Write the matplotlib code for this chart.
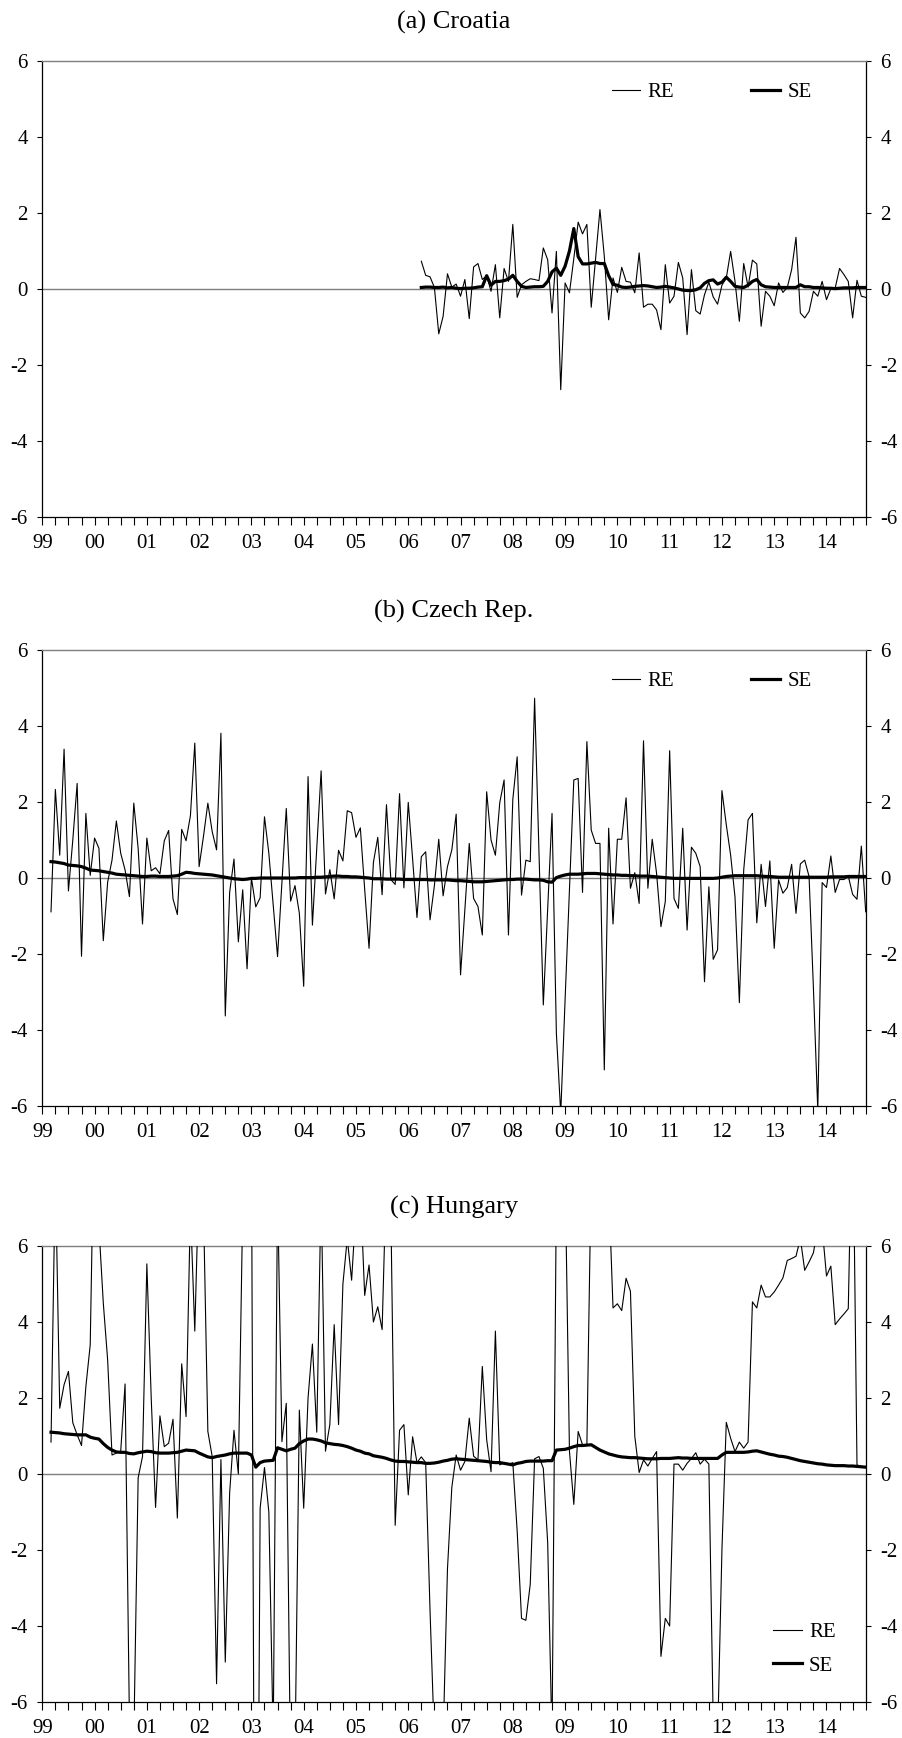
import numpy as np
import matplotlib.pyplot as plt

plt.rcParams['font.family'] = ['Liberation Serif', 'DejaVu Serif']

# monthly observations, month 0 = Jan 1999
year_labels = ['99', '00', '01', '02', '03', '04', '05', '06',
               '07', '08', '09', '10', '11', '12', '13', '14']
y_labels = ['-6', '-4', '-2', '0', '2', '4', '6']

# (a) Croatia, starts Apr 2006 (month 87)
hr_start = 87
hr_re = [0.73, 0.36, 0.32, 0.04, -1.18, -0.72, 0.40, 0.05, 0.13, -0.19, 0.25, -0.78,
         0.58, 0.67, 0.25, 0.35, -0.06, 0.64, -0.76, 0.54, 0.20, 1.70, -0.22, 0.11,
         0.20, 0.27, 0.25, 0.22, 1.08, 0.77, -0.63, 0.99, -2.65, 0.16, -0.10, 0.80,
         1.76, 1.45, 1.70, -0.48, 0.80, 2.09, 0.86, -0.81, 0.29, -0.09, 0.57, 0.20,
         0.18, -0.10, 0.95, -0.48, -0.40, -0.40, -0.55, -1.07, 0.64, -0.37, -0.19, 0.70,
         0.29, -1.20, 0.51, -0.57, -0.66, -0.15, 0.18, -0.21, -0.40, 0.10, 0.29, 0.99,
         0.20, -0.85, 0.67, 0.05, 0.76, 0.66, -0.98, -0.06, -0.19, -0.44, 0.16, -0.09,
         0.04, 0.51, 1.36, -0.63, -0.76, -0.59, -0.06, -0.19, 0.20, -0.28, 0.01, 0.03,
         0.54, 0.38, 0.20, -0.76, 0.23, -0.19, -0.22]
hr_se = [0.04, 0.05, 0.05, 0.04, 0.04, 0.05, 0.03, 0.04, 0.02, 0.01, 0.02, 0.02,
         0.03, 0.05, 0.06, 0.35, 0.10, 0.20, 0.20, 0.22, 0.26, 0.36, 0.20, 0.07,
         0.04, 0.05, 0.06, 0.06, 0.07, 0.20, 0.45, 0.55, 0.36, 0.60, 1.00, 1.59,
         0.85, 0.66, 0.66, 0.68, 0.70, 0.67, 0.67, 0.35, 0.12, 0.10, 0.05, 0.04,
         0.05, 0.07, 0.08, 0.09, 0.08, 0.06, 0.04, 0.05, 0.07, 0.05, 0.03, 0.00,
         -0.03, -0.04, -0.04, -0.02, 0.03, 0.15, 0.22, 0.24, 0.13, 0.18, 0.31, 0.20,
         0.07, 0.05, 0.04, 0.10, 0.20, 0.25, 0.11, 0.06, 0.05, 0.04, 0.04, 0.04,
         0.04, 0.04, 0.04, 0.11, 0.06, 0.06, 0.04, 0.04, 0.03, 0.02, 0.02, 0.01,
         0.02, 0.03, 0.03, 0.03, 0.04, 0.04, 0.04]

# (b) Czech Rep., starts Mar 1999 (month 2)
cz_start = 2
cz_re = [-0.89, 2.33, 0.60, 3.39, -0.34, 1.00, 2.49, -2.06, 1.70, 0.07, 1.05, 0.78,
         -1.65, -0.11, 0.47, 1.50, 0.65, 0.21, -0.49, 1.97, 0.78, -1.21, 1.05, 0.19,
         0.27, 0.11, 0.98, 1.25, -0.55, -0.96, 1.28, 0.98, 1.64, 3.55, 0.30, 1.10,
         1.97, 1.22, 0.74, 3.81, -3.63, -0.38, 0.50, -1.68, -0.31, -2.39, 0.00, -0.76,
         -0.52, 1.61, 0.65, -0.70, -2.07, -0.10, 1.83, -0.61, -0.20, -0.93, -2.85, 2.67,
         -1.24, 0.80, 2.82, -0.42, 0.22, -0.55, 0.73, 0.45, 1.77, 1.72, 1.07, 1.32,
         -0.30, -1.85, 0.41, 1.07, -0.44, 1.93, -0.04, -0.17, 2.22, -0.26, 1.99, 0.50,
         -1.04, 0.56, 0.69, -1.10, -0.20, 1.02, -0.47, 0.30, 0.74, 1.68, -2.55, -0.80,
         0.91, -0.54, -0.75, -1.50, 2.27, 1.00, 0.60, 1.98, 2.58, -1.50, 2.07, 3.19,
         -0.45, 0.47, 0.43, 4.73, 0.70, -3.34, -0.80, 1.70, -4.09, -6.20, -3.20, -0.30,
         2.58, 2.62, -0.38, 3.59, 1.26, 0.91, 0.91, -5.05, 1.31, -1.21, 1.02, 1.02,
         2.11, -0.27, 0.14, -0.67, 3.61, -0.27, 1.02, 0.12, -1.28, -0.62, 3.35, -0.54,
         -0.80, 1.31, -1.37, 0.81, 0.65, 0.30, -2.73, -0.23, -2.14, -1.89, 2.30, 1.40,
         0.60, -0.50, -3.28, 0.21, 1.53, 1.70, -1.18, 0.36, -0.75, 0.45, -1.85, -0.05,
         -0.40, -0.25, 0.36, -0.93, 0.37, 0.47, 0.04, -2.90, -6.10, -0.12, -0.25, 0.58,
         -0.38, -0.04, -0.04, 0.05, -0.43, -0.56, 0.84, -0.89]
cz_se = [0.43, 0.42, 0.40, 0.38, 0.34, 0.33, 0.32, 0.30, 0.26, 0.21, 0.20, 0.19,
         0.17, 0.15, 0.13, 0.10, 0.09, 0.08, 0.07, 0.06, 0.05, 0.04, 0.04, 0.05,
         0.05, 0.04, 0.04, 0.04, 0.05, 0.06, 0.10, 0.15, 0.14, 0.12, 0.11, 0.10,
         0.09, 0.08, 0.06, 0.04, 0.02, 0.00, -0.02, -0.03, -0.04, -0.03, -0.01, -0.01,
         0.00, 0.00, 0.00, 0.00, 0.00, 0.00, 0.00, 0.00, 0.00, 0.01, 0.01, 0.01,
         0.01, 0.02, 0.02, 0.03, 0.04, 0.05, 0.05, 0.04, 0.04, 0.03, 0.03, 0.02,
         0.01, 0.00, -0.02, -0.02, -0.02, -0.03, -0.03, -0.03, -0.03, -0.04, -0.04, -0.04,
         -0.04, -0.04, -0.04, -0.05, -0.05, -0.05, -0.05, -0.05, -0.06, -0.07, -0.07, -0.08,
         -0.09, -0.10, -0.10, -0.10, -0.09, -0.08, -0.07, -0.06, -0.05, -0.04, -0.04, -0.03,
         -0.03, -0.03, -0.04, -0.05, -0.05, -0.06, -0.10, -0.11, 0.01, 0.05, 0.08, 0.10,
         0.10, 0.10, 0.11, 0.12, 0.12, 0.12, 0.11, 0.10, 0.09, 0.08, 0.08, 0.07,
         0.07, 0.06, 0.06, 0.05, 0.05, 0.05, 0.04, 0.03, 0.02, 0.01, 0.00, -0.01,
         -0.01, -0.01, -0.01, -0.01, -0.01, -0.01, -0.01, -0.01, -0.01, 0.00, 0.02, 0.04,
         0.05, 0.06, 0.06, 0.06, 0.06, 0.06, 0.06, 0.05, 0.04, 0.04, 0.03, 0.02,
         0.02, 0.02, 0.02, 0.02, 0.02, 0.02, 0.02, 0.02, 0.02, 0.02, 0.02, 0.03,
         0.03, 0.03, 0.03, 0.04, 0.04, 0.04, 0.04, 0.04]

# (c) Hungary, starts Mar 1999 (month 2); values beyond +-6 run off the panel
hu_start = 2
hu_re = [0.84, 8.0, 1.73, 2.35, 2.70, 1.35, 1.03, 0.75, 2.30, 3.40, 10.0, 6.5,
         4.50, 3.00, 0.50, 0.55, 0.60, 2.37, -6.5, -7.0, -0.10, 0.46, 5.53, 2.00,
         -0.88, 1.53, 0.72, 0.81, 1.44, -1.16, 2.90, 1.51, 7.0, 3.76, 8.0, 7.0,
         1.12, 0.46, -5.52, 0.38, -4.95, -0.50, 1.15, 0.00, 7.0, 8.0, 9.0, -20.0,
         -0.90, 0.17, -1.00, -7.0, 7.5, 0.85, 1.86, -8.0, -7.5, 1.68, -0.90, 2.00,
         3.42, 1.10, 7.5, 0.60, 1.30, 3.93, 1.30, 5.00, 6.20, 5.10, 7.0, 7.5,
         4.70, 5.50, 4.00, 4.40, 3.80, 8.0, 7.0, -1.35, 1.15, 1.30, -0.55, 0.98,
         0.30, 0.45, 0.30, -3.60, -7.0, -8.0, -7.0, -2.50, -0.35, 0.50, 0.10, 0.33,
         1.47, 0.47, 0.37, 2.83, 0.90, 0.06, 3.76, 0.24, 0.30, 0.25, 0.30, -1.50,
         -3.80, -3.85, -2.90, 0.40, 0.46, 0.15, -1.80, -7.0, 7.5, 8.0, 8.0, 0.60,
         -0.80, 1.12, 0.77, 0.77, 8.0, 8.0, 8.0, 8.0, 7.6, 4.37, 4.48, 4.30,
         5.15, 4.81, 0.99, 0.04, 0.37, 0.21, 0.41, 0.59, -4.80, -3.80, -4.00, 0.26,
         0.26, 0.10, 0.28, 0.41, 0.56, 0.26, 0.39, 0.26, -6.5, -7.0, -2.00, 1.36,
         0.94, 0.59, 0.84, 0.68, 0.84, 4.53, 4.37, 4.97, 4.66, 4.66, 4.79, 4.97,
         5.16, 5.62, 5.67, 5.73, 6.20, 5.36, 5.58, 5.82, 6.5, 6.5, 5.21, 5.47,
         3.93, 4.08, 4.21, 4.35, 10.0, 0.24, 0.19, 0.19]
hu_se = [1.10, 1.09, 1.08, 1.06, 1.05, 1.04, 1.03, 1.03, 1.03, 0.97, 0.94, 0.92,
         0.80, 0.70, 0.63, 0.58, 0.57, 0.57, 0.54, 0.53, 0.56, 0.58, 0.60, 0.59,
         0.56, 0.55, 0.55, 0.55, 0.56, 0.57, 0.60, 0.63, 0.62, 0.61, 0.55, 0.50,
         0.45, 0.43, 0.46, 0.48, 0.50, 0.53, 0.55, 0.55, 0.55, 0.55, 0.50, 0.18,
         0.30, 0.34, 0.35, 0.36, 0.69, 0.65, 0.61, 0.65, 0.68, 0.80, 0.87, 0.92,
         0.92, 0.90, 0.87, 0.82, 0.80, 0.78, 0.77, 0.75, 0.72, 0.68, 0.63, 0.60,
         0.55, 0.53, 0.48, 0.46, 0.44, 0.41, 0.37, 0.34, 0.33, 0.33, 0.32, 0.31,
         0.30, 0.30, 0.28, 0.28, 0.29, 0.31, 0.34, 0.36, 0.39, 0.40, 0.39, 0.38,
         0.37, 0.36, 0.35, 0.34, 0.33, 0.31, 0.30, 0.30, 0.28, 0.26, 0.24, 0.28,
         0.30, 0.33, 0.34, 0.34, 0.34, 0.34, 0.35, 0.35, 0.63, 0.64, 0.65, 0.68,
         0.72, 0.75, 0.75, 0.76, 0.77, 0.70, 0.63, 0.58, 0.53, 0.50, 0.47, 0.45,
         0.44, 0.43, 0.43, 0.42, 0.41, 0.40, 0.40, 0.40, 0.41, 0.41, 0.41, 0.42,
         0.43, 0.42, 0.42, 0.41, 0.41, 0.41, 0.41, 0.41, 0.41, 0.41, 0.50, 0.57,
         0.57, 0.57, 0.57, 0.57, 0.58, 0.60, 0.61, 0.58, 0.55, 0.52, 0.50, 0.47,
         0.46, 0.44, 0.41, 0.38, 0.35, 0.33, 0.31, 0.29, 0.27, 0.26, 0.24, 0.23,
         0.22, 0.22, 0.22, 0.21, 0.21, 0.20, 0.19, 0.18]

panels = [
    ('(a) Croatia', hr_start, hr_re, hr_se),
    ('(b) Czech Rep.', cz_start, cz_re, cz_se),
    ('(c) Hungary', hu_start, hu_re, hu_se),
]

W, H = 902, 1738
fig = plt.figure(figsize=(W / 100, H / 100), dpi=100)

ax_left, ax_right = 42.3, 865.7
ax_tops = [61, 650, 1246]
ax_h = 456

for i, (title, start, re_vals, se_vals) in enumerate(panels):
    top = ax_tops[i]
    ax = fig.add_axes([ax_left / W, 1 - (top + ax_h) / H,
                       (ax_right - ax_left) / W, ax_h / H])
    x = start + np.arange(len(re_vals))
    ax.axhline(0, color='#7f7f7f', lw=1.0, zorder=1)
    ax.plot(x, re_vals, color='black', lw=0.8, label='RE', zorder=3)
    ax.plot(start + np.arange(len(se_vals)), se_vals, color='black', lw=2.3,
            label='SE', zorder=4)

    ax.set_xlim(0, 189)
    ax.set_ylim(-6, 6)
    xt = np.arange(0, 190, 3)
    ax.set_xticks(xt)
    ax.set_xticklabels([year_labels[t // 12] if t % 12 == 0 else '' for t in xt])
    ax.set_yticks(range(-6, 7, 2))
    ax.set_yticklabels(y_labels)
    ax.tick_params(axis='x', direction='out', length=5.5, width=0.8, pad=6.5,
                   labelsize=15)
    ax.tick_params(axis='y', direction='out', length=3.5, width=0.8, pad=7,
                   labelsize=15, left=True, right=True,
                   labelleft=True, labelright=True)
    for side in ('left', 'right', 'bottom'):
        ax.spines[side].set_color('black')
        ax.spines[side].set_linewidth(0.9)
    ax.spines['top'].set_color('#7f7f7f')
    ax.spines['top'].set_linewidth(1.0)

    ax.set_title(title, fontsize=19, pad=23)

    if i < 2:
        ax.legend(loc='center left', bbox_to_anchor=(0.6915, 0.932), ncol=2,
                  frameon=False, fontsize=15, handlelength=1.38,
                  handletextpad=0.35, columnspacing=3.7, borderpad=0,
                  borderaxespad=0)
    else:
        ax.legend(loc='center left', bbox_to_anchor=(0.8874, 0.1165),
                  frameon=False, fontsize=15, handlelength=1.38,
                  handletextpad=0.35, labelspacing=0.68, borderpad=0,
                  borderaxespad=0)

fig.savefig('out.png', dpi=100)
